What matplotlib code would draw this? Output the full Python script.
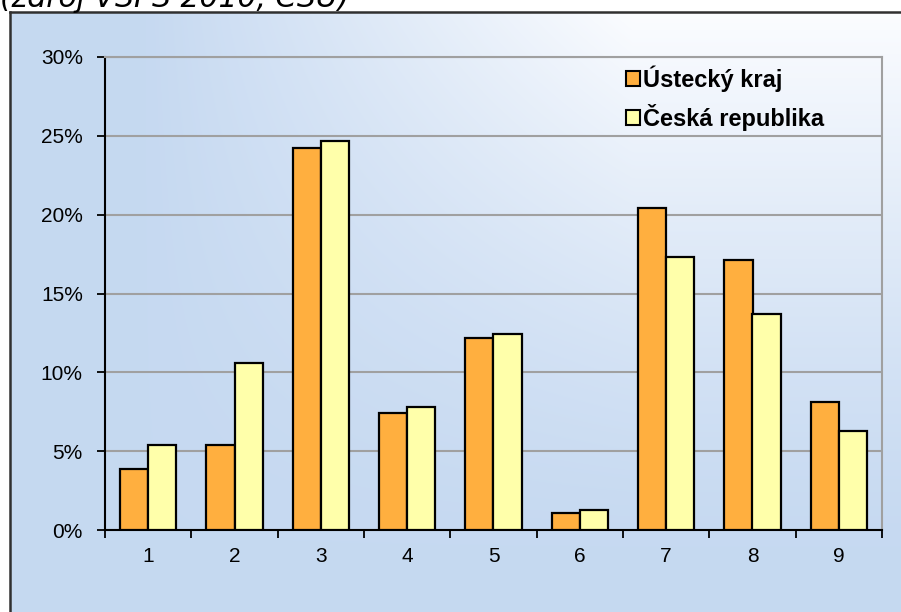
import numpy as np
import matplotlib
matplotlib.use("Agg")
import matplotlib.pyplot as plt
from matplotlib import font_manager
from matplotlib.ticker import FuncFormatter

categories = ["1", "2", "3", "4", "5", "6", "7", "8", "9"]
ustecky = [3.9, 5.4, 24.2, 7.4, 12.2, 1.1, 20.4, 17.1, 8.1]
cr = [5.4, 10.6, 24.7, 7.8, 12.4, 1.3, 17.3, 13.7, 6.3]
series_names = ["Ústecký kraj", "Česká republika"]
yticks = [0, 5, 10, 15, 20, 25, 30]
source_text = "(zdroj VŠPS 2010, ČSÚ)"

font = "Liberation Sans"

W, H = 901, 612
fig = plt.figure(figsize=(W / 100, H / 100), dpi=100)
fig.patch.set_facecolor("white")

# background gradient (chart area)
bg = fig.add_axes([10 / W, 0, 1 - 10 / W, 1 - 12 / H], zorder=0)
ny, nx = 200, 300
xx, yy = np.meshgrid(np.linspace(0, 1, nx), np.linspace(0, 1, ny))  # yy=0 top
fx = np.clip((xx - 0.15) / 0.55, 0, 1)
fy = np.clip(1 - yy / 0.9, 0, 1) ** 1.3
f = fx * fy
blue = np.array([0.776, 0.851, 0.945])
white = np.array([0.985, 0.99, 1.0])
img = blue[None, None, :] * (1 - f[..., None]) + white[None, None, :] * f[..., None]
bg.imshow(img, aspect="auto", extent=[0, 1, 0, 1], interpolation="bilinear")
bg.set_xlim(0, 1)
bg.set_ylim(0, 1)
bg.set_xticks([])
bg.set_yticks([])
for s in ["right", "bottom"]:
    bg.spines[s].set_visible(False)
for s in ["left", "top"]:
    bg.spines[s].set_color("#303030")
    bg.spines[s].set_linewidth(1.8)

ax = fig.add_axes([105 / W, (H - 530) / H, (882 - 105) / W, (530 - 57) / H], zorder=2)
ax.patch.set_alpha(0)

x = np.arange(len(categories))
bw = 0.325
ax.bar(x - bw / 2, ustecky, bw, color="#FFAF3F", edgecolor="black", linewidth=1.6,
       label=series_names[0], zorder=3)
ax.bar(x + bw / 2, cr, bw, color="#FFFFAA", edgecolor="black", linewidth=1.6,
       label=series_names[1], zorder=3)

ax.set_xlim(-0.5, len(categories) - 0.5)
ax.set_ylim(0, 30)
ax.set_yticks(yticks)
ax.yaxis.set_major_formatter(FuncFormatter(lambda v, p: f"{int(v)}%"))
ax.yaxis.grid(True, color="#a0a0a0", linewidth=1.5, zorder=1)
ax.set_axisbelow(True)

ax.set_xticks(x)
ax.set_xticklabels(categories)
ax.set_xticks(np.arange(-0.5, len(categories)), minor=True)
ax.tick_params(axis="x", which="major", length=0, pad=12, labelsize=15)
ax.tick_params(axis="x", which="minor", length=6, width=1.3, color="black", direction="out")
ax.tick_params(axis="y", length=6, width=1.3, color="black", direction="out", pad=10,
               labelsize=15)
for lab in ax.get_xticklabels() + ax.get_yticklabels():
    lab.set_fontfamily(font)
    lab.set_color("black")

ax.spines["left"].set_color("black")
ax.spines["left"].set_linewidth(1.5)
ax.spines["bottom"].set_color("black")
ax.spines["bottom"].set_linewidth(1.5)
ax.spines["top"].set_color("#a0a0a0")
ax.spines["top"].set_linewidth(1.5)
ax.spines["right"].set_color("#a0a0a0")
ax.spines["right"].set_linewidth(1.5)

leg = ax.legend(loc="upper left", bbox_to_anchor=(614 / W, 1 - 54 / H), bbox_transform=fig.transFigure,
                frameon=False, handlelength=0.6, handleheight=0.6, handletextpad=0.12,
                labelspacing=0.5, borderpad=0,
                prop=font_manager.FontProperties(family=font, weight="bold", size=17))
for h in leg.legend_handles:
    h.set_linewidth(1.5)

fig.text(0.0, 1 - 7 / H, source_text, fontsize=21.5, style="italic", family="DejaVu Sans",
         ha="left", va="baseline", color="black")

fig.savefig("out.png", dpi=100)
